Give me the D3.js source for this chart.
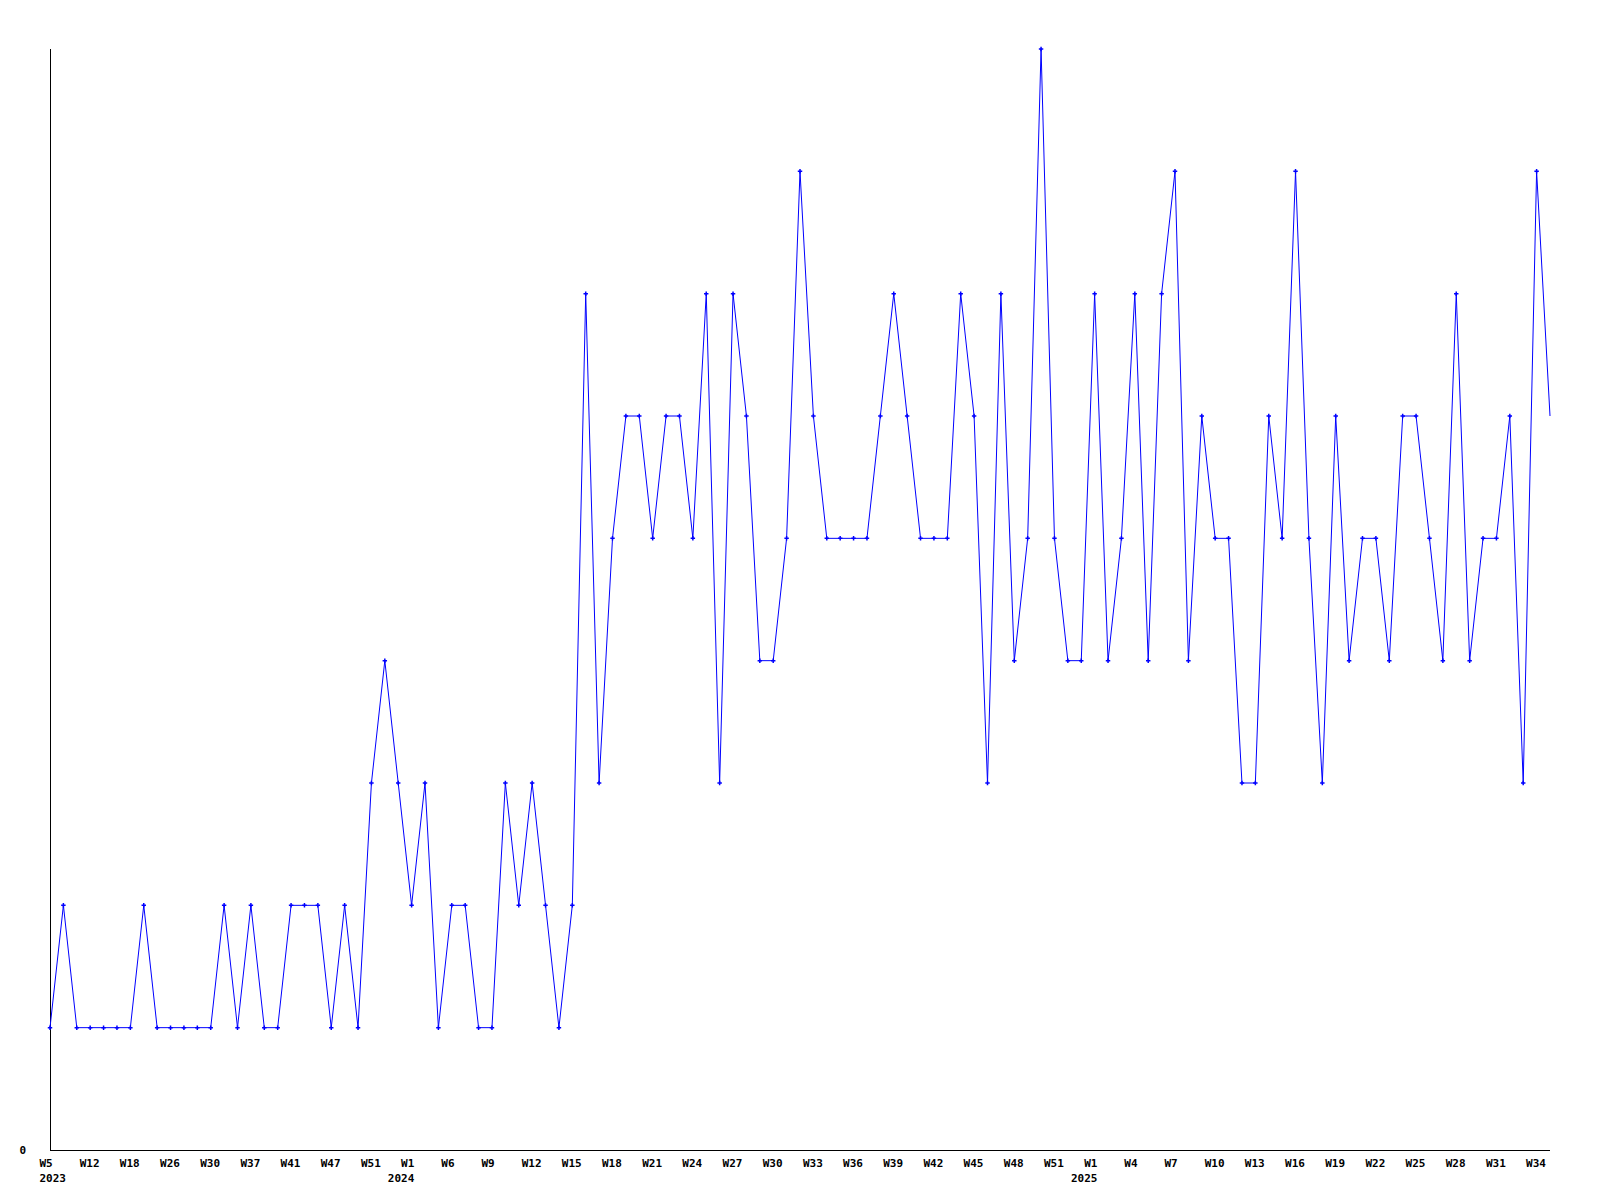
<!DOCTYPE html>
<html>
<head>
<meta charset="utf-8">
<script src="https://cdn.jsdelivr.net/npm/d3@7"></script>
<style>
  html, body { margin: 0; padding: 0; background: #fff; }
  svg { display: block; }
  text { font-family: "DejaVu Sans Mono", "Liberation Mono", monospace; font-weight: bold; font-size: 11px; fill: #000; }
</style>
</head>
<body>
<script>
// Weekly values (one point per week with data)
const values = [
  1,2,1,1,1,1,1,2,1,1,1,1,1,2,1,2,1,1,2,2,2,1,2,1,3,4,3,
  2,3,1,2,2,1,1,3,2,3,2,1,2,7,3,5,6,6,5,6,6,5,7,3,7,6,4,4,5,8,6,5,5,5,5,6,7,6,5,5,5,7,6,3,7,4,5,9,5,4,4,
  7,4,5,7,4,7,8,4,6,5,5,3,3,6,5,8,5,3,6,4,5,5,4,6,6,5,4,7,4,5,5,6,3,8,6
];
// Tick labels, one every 3rd point
const weekLabels = [
  "W5","W12","W18","W26","W30","W37","W41","W47","W51",
  "W1","W6","W9","W12","W15","W18","W21","W24","W27","W30","W33","W36","W39","W42","W45","W48","W51",
  "W1","W4","W7","W10","W13","W16","W19","W22","W25","W28","W31","W34"
];
const yearLabels = ["2023", "2024", "2025"];
const yearTickIndex = [0, 9, 26]; // index into weekLabels where a year starts
const tickStep = 3;
const yTicks = [0];

const W = 1600, H = 1200;
const svg = d3.select("body").append("svg").attr("width", W).attr("height", H);

const x = d3.scaleLinear().domain([0, values.length - 1]).range([50, 1550]);
const y = d3.scaleLinear().domain([0, 9]).range([1150, 49]);

// axes lines
svg.append("line").attr("x1", 50.5).attr("x2", 50.5).attr("y1", y(9)).attr("y2", y(0))
  .attr("stroke", "#000").attr("stroke-width", 1);
svg.append("line").attr("x1", 50).attr("x2", 1550).attr("y1", y(0) + 0.5).attr("y2", y(0) + 0.5)
  .attr("stroke", "#000").attr("stroke-width", 1);

// y tick label
svg.selectAll("text.ytick").data(yTicks).enter().append("text")
  .attr("class", "ytick").attr("x", 19.5).attr("y", d => y(d) + 4).text(d => d);

// x tick labels
const xl = svg.append("g");
const minX = x(0) - 10.5;
weekLabels.forEach((lab, k) => {
  const xi = x(k * tickStep) - 10.5;
  const wt = xl.append("text").attr("x", xi).attr("y", 1167).text(lab);
  const yi = yearTickIndex.indexOf(k);
  if (yi >= 0) {
    const yt = xl.append("text").attr("y", 1182).text(yearLabels[yi]);
    const wEnd = xi + wt.node().getComputedTextLength();
    const yw = yt.node().getComputedTextLength();
    yt.attr("x", Math.max(minX, wEnd - yw));
  }
});

// line
const line = d3.line().x((d, i) => x(i)).y(d => y(d));
svg.append("path").datum(values).attr("d", line)
  .attr("fill", "none").attr("stroke", "#0000ff").attr("stroke-width", 1);

// markers (last point has none)
const sym = d3.symbol().type(d3.symbolCross).size(11);
svg.append("g").selectAll("path").data(values.slice(0, -1)).enter().append("path")
  .attr("d", sym)
  .attr("transform", (d, i) => `translate(${x(i)},${y(d)})`)
  .attr("fill", "#0000ff");
</script>
</body>
</html>
